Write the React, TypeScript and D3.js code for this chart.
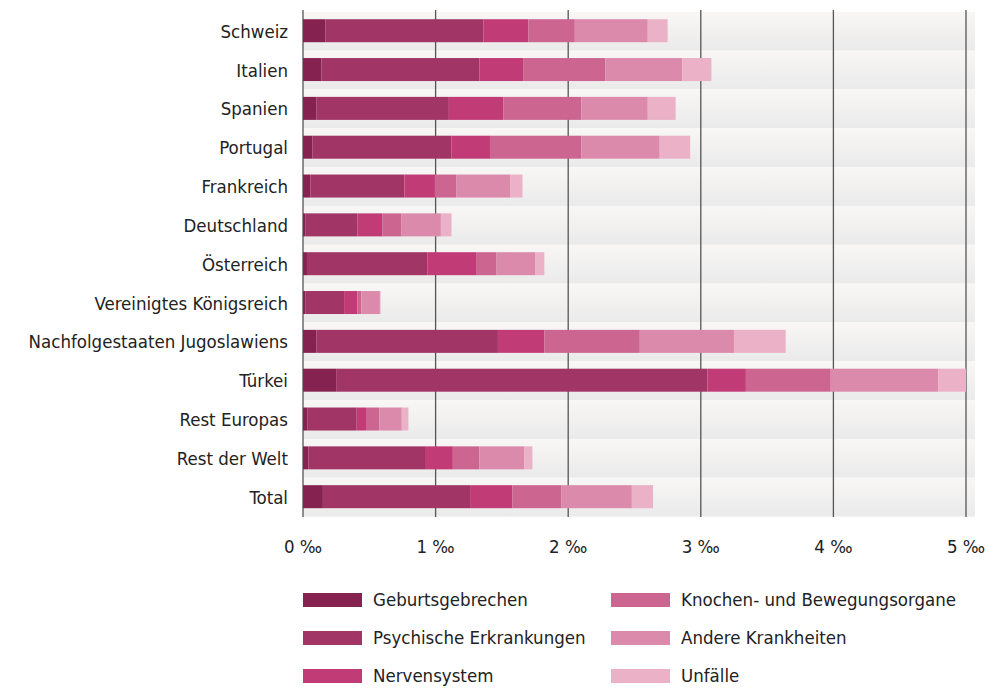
import React from "react";
import * as d3 from "d3";

const countries = [
  "Schweiz",
  "Italien",
  "Spanien",
  "Portugal",
  "Frankreich",
  "Deutschland",
  "Österreich",
  "Vereinigtes Königsreich",
  "Nachfolgestaaten Jugoslawiens",
  "Türkei",
  "Rest Europas",
  "Rest der Welt",
  "Total",
];

const categories = [
  "Geburtsgebrechen",
  "Psychische Erkrankungen",
  "Nervensystem",
  "Knochen- und Bewegungsorgane",
  "Andere Krankheiten",
  "Unfälle",
];

const geburtsgebrechen = [0.17, 0.14, 0.10, 0.07, 0.055, 0.02, 0.03, 0.02, 0.10, 0.25, 0.035, 0.04, 0.15];
const psychische = [1.19, 1.19, 1.0, 1.05, 0.71, 0.39, 0.91, 0.29, 1.37, 2.8, 0.37, 0.88, 1.11];
const nervensystem = [0.34, 0.33, 0.41, 0.29, 0.23, 0.19, 0.37, 0.1, 0.35, 0.29, 0.07, 0.21, 0.32];
const knochen = [0.35, 0.62, 0.59, 0.69, 0.16, 0.14, 0.15, 0.03, 0.72, 0.64, 0.1, 0.2, 0.37];
const andere = [0.55, 0.58, 0.5, 0.59, 0.41, 0.3, 0.29, 0.14, 0.71, 0.81, 0.17, 0.34, 0.53];
const unfaelle = [0.15, 0.22, 0.21, 0.23, 0.09, 0.08, 0.07, 0.005, 0.39, 0.21, 0.05, 0.06, 0.16];

const seriesValues = [geburtsgebrechen, psychische, nervensystem, knochen, andere, unfaelle];

const colors = ["#86224f", "#a13565", "#c13b77", "#cc6590", "#db8aab", "#ebb1c7"];

const ticks = [0, 1, 2, 3, 4, 5];

const FONT = "'Liberation Sans Narrow', 'DejaVu Sans Condensed', 'Roboto', sans-serif";

export default function App() {
  const width = 989;
  const height = 689;
  const x = d3.scaleLinear().domain([0, 5]).range([303, 966]);
  const y = d3.scaleBand<string>().domain(countries).range([11.8, 516.6]).paddingInner(0).paddingOuter(0);
  const barH = 23;
  const fs = 18.5;

  const rows = countries.map((c, i) => {
    const obj: Record<string, any> = { country: c };
    categories.forEach((k, j) => (obj[k] = seriesValues[j][i]));
    return obj;
  });
  const stack = d3.stack<any>().keys(categories)(rows);

  return (
    <svg
      width={width}
      height={height}
      style={{ position: "absolute", left: 0, top: 0, background: "#ffffff" }}
      fontFamily={FONT}
    >
      <defs>
        <linearGradient id="band" x1="0" y1="0" x2="0" y2="1">
          <stop offset="0%" stopColor="#f8f7f6" />
          <stop offset="100%" stopColor="#ebeaea" />
        </linearGradient>
      </defs>
      {countries.map((c) => (
        <rect key={"b" + c} x={303} y={y(c)} width={672} height={y.bandwidth()} fill="url(#band)" />
      ))}
      {ticks.map((t) => (
        <line key={"g" + t} x1={x(t)} x2={x(t)} y1={10} y2={517} stroke="#555" strokeWidth={1.3} />
      ))}
      {stack.map((s, si) =>
        s.map((d, i) => (
          <rect
            key={si + "-" + i}
            x={x(d[0])}
            y={(y(countries[i]) as number) + (y.bandwidth() - barH) / 2 - 0.5}
            width={Math.max(0, x(d[1]) - x(d[0]))}
            height={barH}
            fill={colors[si]}
          />
        ))
      )}
      {countries.map((c) => (
        <text
          key={"l" + c}
          x={288}
          y={(y(c) as number) + y.bandwidth() / 2}
          dy="0.35em"
          textAnchor="end"
          fontSize={fs}
          fill="#222"
        >
          {c}
        </text>
      ))}
      {ticks.map((t) => (
        <text key={"t" + t} x={x(t)} y={553} textAnchor="middle" fontSize={fs} fill="#222">
          {t} ‰
        </text>
      ))}
      {categories.map((k, i) => {
        const col = Math.floor(i / 3);
        const row = i % 3;
        const sx = col === 0 ? 303 : 611;
        const cy = 600 + row * 38;
        return (
          <g key={"lg" + k}>
            <rect x={sx} y={cy - 7} width={59} height={14} fill={colors[i]} />
            <text x={sx + 70} y={cy} dy="0.35em" fontSize={fs} fill="#222">
              {k}
            </text>
          </g>
        );
      })}
    </svg>
  );
}
